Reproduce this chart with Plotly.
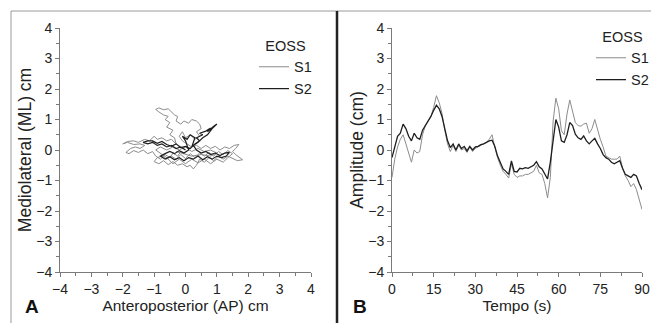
import plotly.graph_objects as go

# ---- Panel A: stabilogram (AP vs ML), hand-read path points ----
ap_s1 = [0.0, -0.15, -0.25, -0.4, -0.5, -0.65, -0.8, -0.95, -1.05, -1.2, -1.35, -1.5, -1.65, -1.8, -1.9,
         -1.75, -1.6, -1.45, -1.3, -1.45, -1.65, -1.85, -2.0, -1.85, -1.65, -1.5, -1.3, -1.15, -1.0, -0.9,
         -0.75, -0.6, -0.45, -0.3,
         -0.35, -0.5, -0.4, -0.6, -0.5, -0.65, -0.55, -0.7, -0.85, -0.95, -0.85, -0.7, -0.55, -0.45, -0.35,
         -0.25, -0.3, -0.15, -0.05, 0.1, 0.2, 0.35, 0.45, 0.5, 0.35, 0.45, 0.3, 0.15, 0.0, -0.1, -0.2, -0.1, 0.05,
         0.2, 0.35, 0.5, 0.65, 0.8, 0.95, 1.1, 1.25, 1.4, 1.55, 1.7, 1.6, 1.5, 1.6, 1.75, 1.82, 1.65, 1.5,
         1.35, 1.2, 1.05, 0.9, 0.75, 0.6, 0.45, 0.35, 0.25, 0.15, 0.05, -0.1, -0.25, -0.4, -0.55, -0.7, -0.85,
         -1.0, -0.9, -0.75, -0.6, -0.45, -0.3, -0.15, 0.0, 0.15, 0.3, 0.45, 0.6, 0.75, 0.9, 1.05, 1.2, 1.35,
         1.5, 1.35, 1.2, 1.0, 0.8, 0.6, 0.4, 0.2, 0.0, -0.2, -0.4, -0.6, -0.8, -0.95, -0.8, -0.6, -0.4, -0.2,
         0.0, 0.2, 0.4, 0.6, 0.8, 1.0, 0.8, 0.5, 0.2, -0.1, -0.3]
ml_s1 = [-0.1, -0.05, -0.2, -0.1, -0.25, -0.15, -0.3, -0.2, -0.05, -0.12, 0.0, -0.08, -0.02, -0.12, -0.08,
         0.05, 0.1, 0.05, 0.15, 0.2, 0.18, 0.25, 0.2, 0.28, 0.3, 0.25, 0.35, 0.3, 0.45, 0.35,
         0.4, 0.3, 0.35, 0.2,
         0.4, 0.5, 0.65, 0.75, 0.9, 1.0, 1.1, 1.15, 1.25, 1.33, 1.38, 1.32, 1.35, 1.25, 1.15,
         1.1, 0.95, 0.85, 0.95, 0.88, 1.0, 0.95, 0.85, 0.7, 0.6, 0.45, 0.35, 0.5, 0.4, 0.6, 0.45, 0.3, 0.2,
         0.1, 0.15, 0.05, 0.15, 0.05, 0.12, 0.0, 0.1, 0.05, 0.15, 0.18, 0.05, -0.05, -0.15, -0.25, -0.32, -0.35, -0.28,
         -0.2, -0.3, -0.2, -0.35, -0.25, -0.4, -0.3, -0.5, -0.62, -0.5, -0.55, -0.45, -0.5, -0.38, -0.48, -0.35, -0.45,
         -0.38, -0.25, -0.2, -0.3, -0.2, -0.3, -0.15, -0.28, -0.12, -0.25, -0.1, -0.2, -0.08, -0.2, -0.05, -0.15, -0.02,
         -0.12, -0.25, -0.4, -0.3, -0.45, -0.3, -0.42, -0.3, -0.45, -0.3, -0.45, -0.25, -0.1, 0.0, 0.1, 0.0, 0.1, 0.0,
         0.1, -0.05, 0.05, -0.05, 0.0, -0.1, -0.2, -0.15, -0.2, -0.1, -0.05]

ap_s2 = [0.0, -0.15, -0.3, -0.45, -0.6, -0.75, -0.9, -1.05, -1.2, -1.35, -1.2, -1.05, -0.9, -0.75, -0.6,
         -0.45, -0.3, -0.15, 0.0, 0.15, 0.3, 0.45, 0.35, 0.55, 0.45, 0.65, 0.8, 0.7, 0.9, 1.0, 0.85, 0.7,
         0.55, 0.4, 0.25, 0.35, 0.5, 0.65, 0.8, 0.95, 1.1, 1.25, 1.4, 1.3, 1.15, 1.0, 0.85, 0.7, 0.55,
         0.4, 0.25, 0.1, -0.05, -0.2, -0.35, -0.5, -0.65, -0.8, -0.65, -0.5, -0.35, -0.2, -0.05, 0.1,
         0.0, -0.1, 0.05, 0.15, 0.3, 0.2]
ml_s2 = [0.0, 0.1, 0.05, 0.15, 0.1, 0.2, 0.15, 0.25, 0.2, 0.25, 0.3, 0.3, 0.22, 0.28, 0.18,
         0.12, 0.2, 0.08, 0.12, 0.05, 0.2, 0.3, 0.4, 0.5, 0.55, 0.62, 0.72, 0.6, 0.78, 0.85, 0.7, 0.5,
         0.4, 0.25, 0.15, 0.0, -0.1, -0.05, -0.15, -0.1, -0.18, -0.1, -0.08, -0.2, -0.25, -0.2, -0.3, -0.22, -0.32,
         -0.2, -0.3, -0.25, -0.35, -0.25, -0.32, -0.22, -0.3, -0.2, -0.12, -0.05, -0.12, -0.02, -0.1, 0.0,
         0.3, 0.45, 0.35, 0.5, 0.4, 0.1]

# ---- Panel B: amplitude over time ----
tempo = list(range(0, 91))
amp_s1 = [-0.9, -0.3, 0.1, 0.35, 0.5, 0.2, -0.1, -0.4, 0.0, -0.1,
          -0.05, 0.5, 0.8, 0.95, 1.1, 1.4, 1.78, 1.55, 1.2, 0.65,
          0.2, -0.05, 0.15, -0.05, 0.15, 0.0, 0.05, -0.08, 0.1, -0.05,
          0.05, 0.1, 0.15, 0.2, 0.25, 0.35, 0.5, 0.1, -0.25, -0.5,
          -0.7, -0.8, -0.92, -0.45, -0.8, -0.9, -0.85, -0.85, -0.8, -0.8,
          -0.75, -0.7, -0.5, -0.75, -0.8, -1.1, -1.57, -0.9, 0.95, 1.7,
          1.35, 0.63, 0.5, 1.18, 1.64, 1.3, 0.9, 0.8, 0.78, 0.85,
          0.88, 0.55, 0.7, 1.0, 0.65, 0.35, 0.1, -0.2, -0.25, -0.3,
          -0.3, -0.3, -0.2, -0.6, -0.85, -1.0, -1.2, -1.1, -1.3, -1.6,
          -1.95]
amp_s2 = [-0.25, 0.1, 0.45, 0.55, 0.85, 0.7, 0.45, 0.3, 0.55, 0.4,
          0.35, 0.65, 0.8, 0.95, 1.1, 1.3, 1.47, 1.35, 1.1, 0.7,
          0.3, 0.08, 0.2, 0.0, 0.2, 0.05, 0.12, -0.03, 0.12, 0.0,
          0.1, 0.12, 0.18, 0.2, 0.25, 0.3, 0.32, 0.12, -0.2, -0.42,
          -0.62, -0.7, -0.8, -0.36, -0.7, -0.72, -0.6, -0.62, -0.58, -0.6,
          -0.55, -0.5, -0.38, -0.55, -0.62, -0.8, -0.95, -0.4, 0.4, 1.0,
          0.75, 0.3, 0.25, 0.5, 0.9, 0.8, 0.52, 0.4, 0.35, 0.46,
          0.3, 0.2, 0.3, 0.38, 0.2, 0.05, -0.15, -0.25, -0.3, -0.4,
          -0.45, -0.4, -0.35, -0.6, -0.8, -0.85, -0.9, -0.8, -0.85, -1.1,
          -1.3]

ticks_ab = [-4, -3, -2, -1, 0, 1, 2, 3, 4]
ticks_t = [0, 15, 30, 45, 60, 75, 90]

C1 = "#8c8c8c"
C2 = "#1e1e1e"
FONT = "Liberation Sans, Arial, sans-serif"
W, H = 659, 323
OFF = 8  # page body margin offset

fig = go.Figure()
fig.add_trace(go.Scatter(x=ap_s1, y=ml_s1, mode="lines", name="S1", line=dict(color=C1, width=1),
                         xaxis="x", yaxis="y", legend="legend", legendgroup="a1"))
fig.add_trace(go.Scatter(x=ap_s2, y=ml_s2, mode="lines", name="S2", line=dict(color=C2, width=1.2),
                         xaxis="x", yaxis="y", legend="legend", legendgroup="a2"))
fig.add_trace(go.Scatter(x=tempo, y=amp_s1, mode="lines", name="S1", line=dict(color=C1, width=1),
                         xaxis="x2", yaxis="y2", legend="legend2", legendgroup="b1"))
fig.add_trace(go.Scatter(x=tempo, y=amp_s2, mode="lines", name="S2", line=dict(color=C2, width=1.3),
                         xaxis="x2", yaxis="y2", legend="legend2", legendgroup="b2"))

def px_x(p):
    return (p - OFF) / W

def px_y(p):
    return 1 - (p - OFF) / H

axis_common = dict(showline=True, linecolor="#7a7a7a", linewidth=1, ticks="outside", ticklen=4,
                   tickcolor="#7a7a7a", showgrid=False, zeroline=False, automargin=False,
                   tickfont=dict(family=FONT, size=14, color="#222"))
xtitle_font = dict(family=FONT, size=15.5, color="#222")
ytitle_font = dict(family=FONT, size=17.5, color="#222")

fig.update_layout(
    width=W, height=H, margin=dict(l=0, r=0, t=0, b=0, autoexpand=False),
    paper_bgcolor="white", plot_bgcolor="white",
    font=dict(family=FONT, color="#222"),
    xaxis=dict(domain=[px_x(60), px_x(311)], range=[-4, 4], tickvals=ticks_ab, anchor="y",
               minor=dict(ticks="outside", ticklen=3, dtick=0.5, tickcolor="#7a7a7a"),
               title=dict(text="Anteroposterior (AP) cm", standoff=4, font=xtitle_font), **axis_common),
    yaxis=dict(domain=[px_y(272), px_y(28)], range=[-4, 4], tickvals=ticks_ab, anchor="x",
               minor=dict(ticks="outside", ticklen=3, dtick=0.5, tickcolor="#7a7a7a"),
               title=dict(text="Mediolateral (ML) cm", standoff=0, font=ytitle_font), **axis_common),
    xaxis2=dict(domain=[px_x(392), px_x(642)], range=[0, 90], tickvals=ticks_t, anchor="y2",
                minor=dict(ticks="outside", ticklen=3, dtick=7.5, tickcolor="#7a7a7a"),
                title=dict(text="Tempo (s)", standoff=4, font=xtitle_font), **axis_common),
    yaxis2=dict(domain=[px_y(272), px_y(28)], range=[-4, 4], tickvals=ticks_ab, anchor="x2",
                minor=dict(ticks="outside", ticklen=3, dtick=0.5, tickcolor="#7a7a7a"),
                title=dict(text="Amplitude (cm)", standoff=0, font=ytitle_font), **axis_common),
    legend=dict(x=px_x(254), y=px_y(32), xanchor="left", yanchor="top", bgcolor="rgba(0,0,0,0)",
                title=dict(text="EOSS", side="top center", font=dict(family=FONT, size=14.5)),
                font=dict(family=FONT, size=14.5), tracegroupgap=0, itemwidth=30),
    legend2=dict(x=px_x(591), y=px_y(23), xanchor="left", yanchor="top", bgcolor="rgba(0,0,0,0)",
                 title=dict(text="EOSS", side="top center", font=dict(family=FONT, size=14.5)),
                 font=dict(family=FONT, size=14.5), tracegroupgap=0, itemwidth=30),
    showlegend=True,
)

# frame lines and panel divider
fig.add_shape(type="line", xref="paper", yref="paper", x0=px_x(11), x1=1, y0=px_y(11), y1=px_y(11),
              line=dict(color="#9a9a9a", width=1))
fig.add_shape(type="line", xref="paper", yref="paper", x0=px_x(11), x1=px_x(11), y0=0, y1=px_y(11),
              line=dict(color="#9a9a9a", width=1))
fig.add_shape(type="line", xref="paper", yref="paper", x0=px_x(337), x1=px_x(337), y0=0, y1=px_y(11),
              line=dict(color="#222", width=2.5))

# panel letters
fig.add_annotation(text="<b>A</b>", xref="paper", yref="paper", x=px_x(32), y=px_y(306),
                   xanchor="center", yanchor="middle",
                   showarrow=False, font=dict(family=FONT, size=19, color="#111"))
fig.add_annotation(text="<b>B</b>", xref="paper", yref="paper", x=px_x(360), y=px_y(306),
                   xanchor="center", yanchor="middle",
                   showarrow=False, font=dict(family=FONT, size=19, color="#111"))

fig.write_html("out.html")
